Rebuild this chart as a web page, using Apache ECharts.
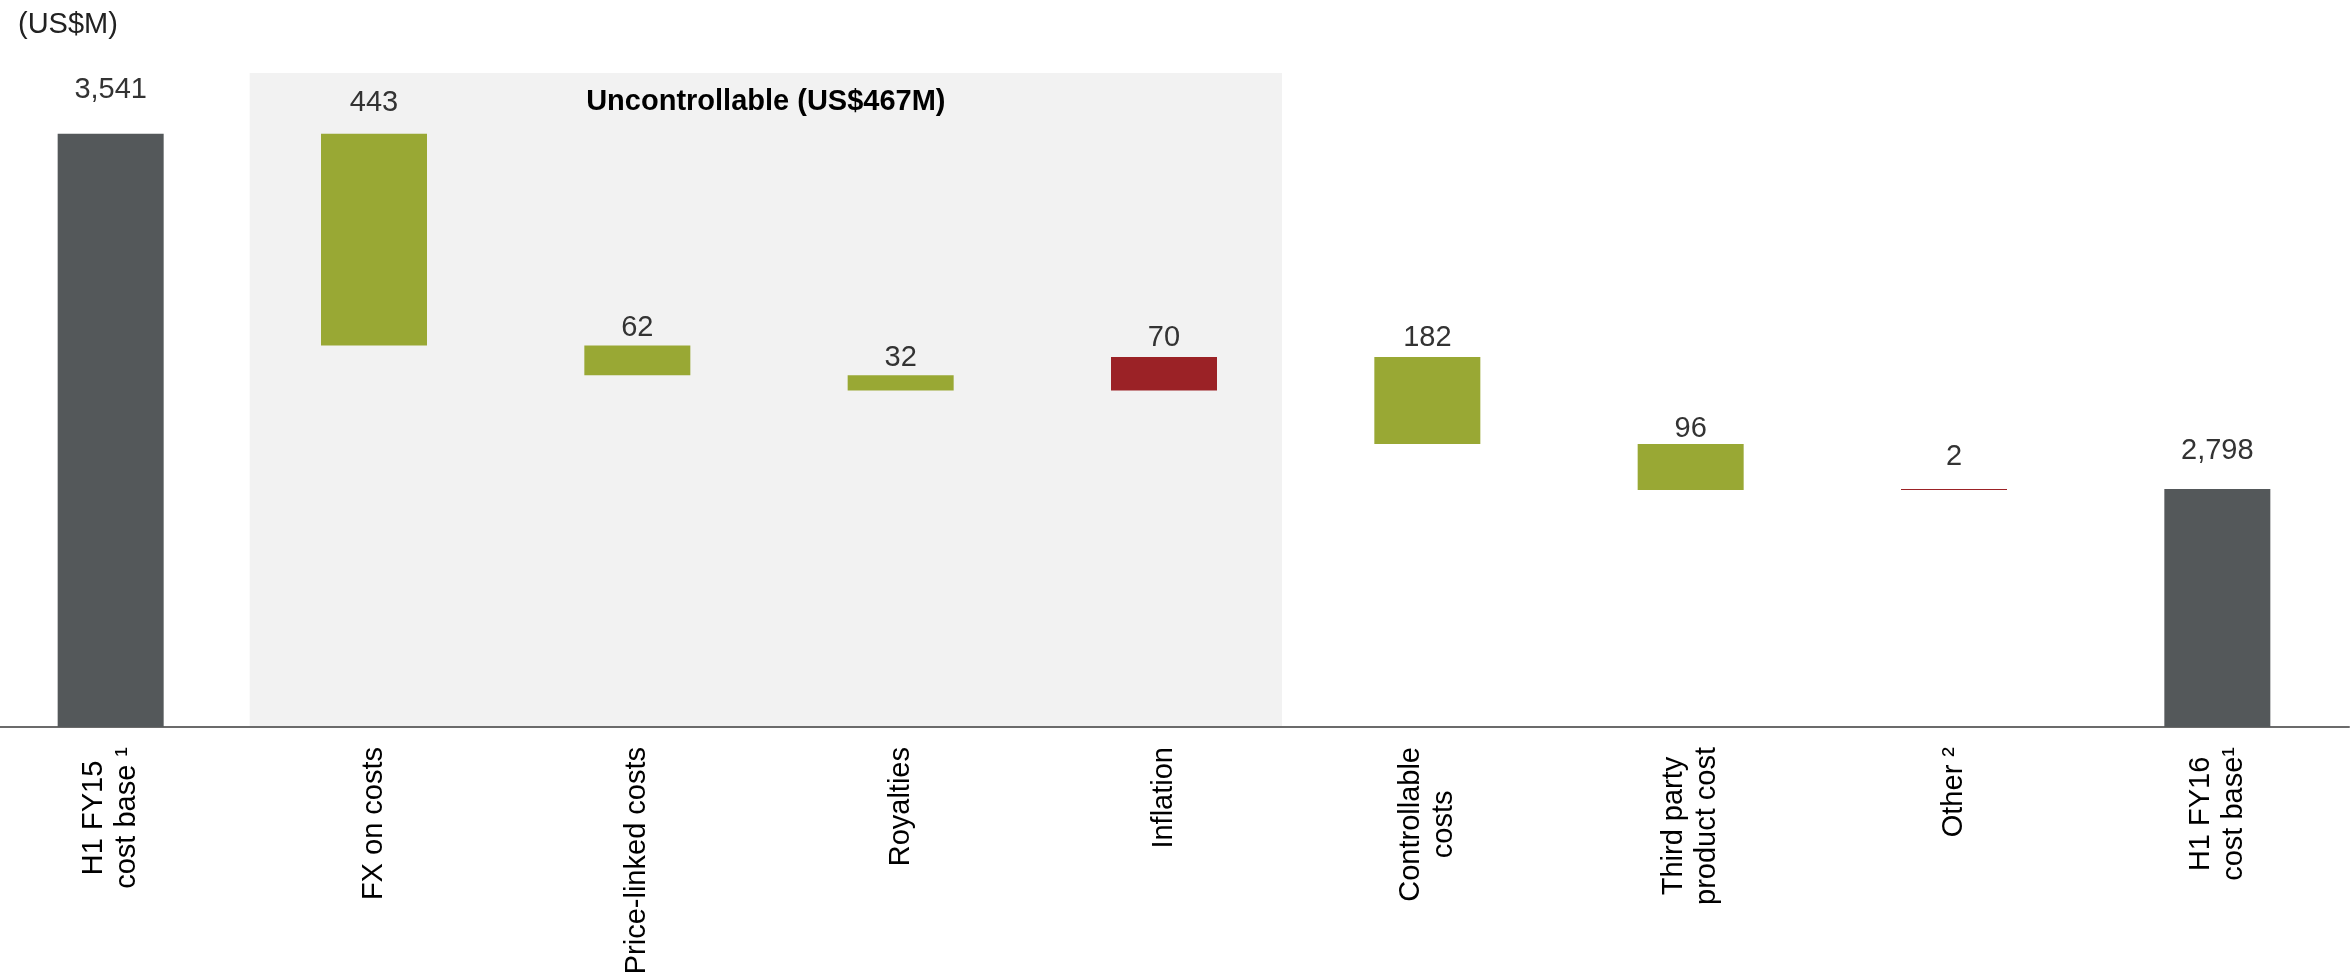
<!DOCTYPE html>
<html>
<head>
<meta charset="utf-8">
<script src="https://cdn.jsdelivr.net/npm/echarts@6/dist/echarts.min.js"></script>
<style>
  html, body { margin: 0; padding: 0; background: #fff; }
  #chart { width: 2351px; height: 978px; }
</style>
</head>
<body>
<div id="chart"></div>
<script>
// ---- data ----
const categories = [
  'H1 FY15\ncost base \u00b9',
  'FX on costs',
  'Price-linked costs',
  'Royalties',
  'Inflation',
  'Controllable\ncosts',
  'Third party\nproduct cost',
  'Other \u00b2',
  'H1 FY16\ncost base\u00b9'
];
const changes = [3541, -443, -62, -32, 70, -182, -96, 2, 2798];
const kinds = ['total', 'delta', 'delta', 'delta', 'delta', 'delta', 'delta', 'delta', 'total'];
const unitLabel = '(US$M)';
const groupTitle = 'Uncontrollable (US$467M)';
const groupRange = [1, 4];      // category indexes covered by the shaded group
const groupTop = 3668;          // top of the shaded group (value units)
const yMin = 2300;
const yMax = 3800;

// ---- styles ----
const COLORS = { total: '#54585a', down: '#99a834', up: '#9b2226' };
const labelGap = [29, 16, 3, 3, 5, 5, 1, 17, 23];
const FONT = "'Liberation Sans', Arial, sans-serif";

// ---- waterfall construction ----
const base = [], height = [], colors = [];
let running = 0;
changes.forEach((v, i) => {
  if (kinds[i] === 'total') {
    base.push(0); height.push(v); colors.push(COLORS.total); running = v;
  } else {
    const next = running + v;
    base.push(Math.min(running, next));
    height.push(Math.abs(v));
    colors.push(v < 0 ? COLORS.down : COLORS.up);
    running = next;
  }
});

const chart = echarts.init(document.getElementById('chart'), null, { renderer: 'canvas' });

chart.setOption({
  animation: false,
  backgroundColor: '#ffffff',
  textStyle: { fontFamily: FONT },
  title: {
    text: unitLabel, left: 13, top: 5,
    textStyle: { fontFamily: FONT, fontSize: 29, fontWeight: 'normal', color: '#222' }
  },
  grid: { left: -21, right: 2, top: 10, bottom: 251, containLabel: false, outerBoundsMode: 'none' },
  xAxis: {
    type: 'category',
    data: categories,
    axisTick: { show: false },
    axisLine: { show: true, lineStyle: { color: '#6b6b6b', width: 2 } },
    axisLabel: {
      interval: 0, rotate: 90, margin: 20,
      fontFamily: FONT, fontSize: 29, color: '#000', lineHeight: 33,
      formatter: (v) => v.split('\n').map(s => '{a|' + s + '}').join('\n'),
      rich: { a: { align: 'center', fontFamily: FONT, fontSize: 29, color: '#000', lineHeight: 33 } }
    },
    splitLine: { show: false }
  },
  yAxis: { type: 'value', min: yMin, max: yMax, show: false, splitLine: { show: false } },
  series: [
    {
      type: 'custom',
      z: 0,
      silent: true,
      data: [groupRange],
      renderItem: (params, api) => {
        const bw = api.size([1, 0])[0];
        const pTop = api.coord([api.value(0), groupTop]);
        const pBot = api.coord([api.value(1), yMin]);
        const x0 = pTop[0] - bw * 0.472;
        const x1 = pBot[0] + bw * 0.448;
        return {
          type: 'group',
          children: [
            { type: 'rect', shape: { x: x0, y: pTop[1], width: x1 - x0, height: pBot[1] - pTop[1] },
              style: { fill: '#f2f2f2' } },
            { type: 'text', style: { text: groupTitle, x: (x0 + x1) / 2, y: pTop[1] + 29,
              align: 'center', verticalAlign: 'middle', font: 'bold 29px ' + FONT, fill: '#000' } }
          ]
        };
      }
    },
    {
      type: 'bar', stack: 'wf', z: 2, barWidth: 106,
      itemStyle: { color: 'transparent' },
      emphasis: { disabled: true },
      data: base
    },
    {
      type: 'bar', stack: 'wf', z: 2, barWidth: 106,
      data: height.map((h, i) => ({
        value: h,
        itemStyle: { color: colors[i] },
        label: { distance: labelGap[i] }
      })),
      label: {
        show: true, position: 'top',
        fontFamily: FONT, fontSize: 29, color: '#333',
        formatter: (p) => Math.abs(changes[p.dataIndex]).toLocaleString('en-US')
      }
    }
  ]
});
</script>
</body>
</html>
